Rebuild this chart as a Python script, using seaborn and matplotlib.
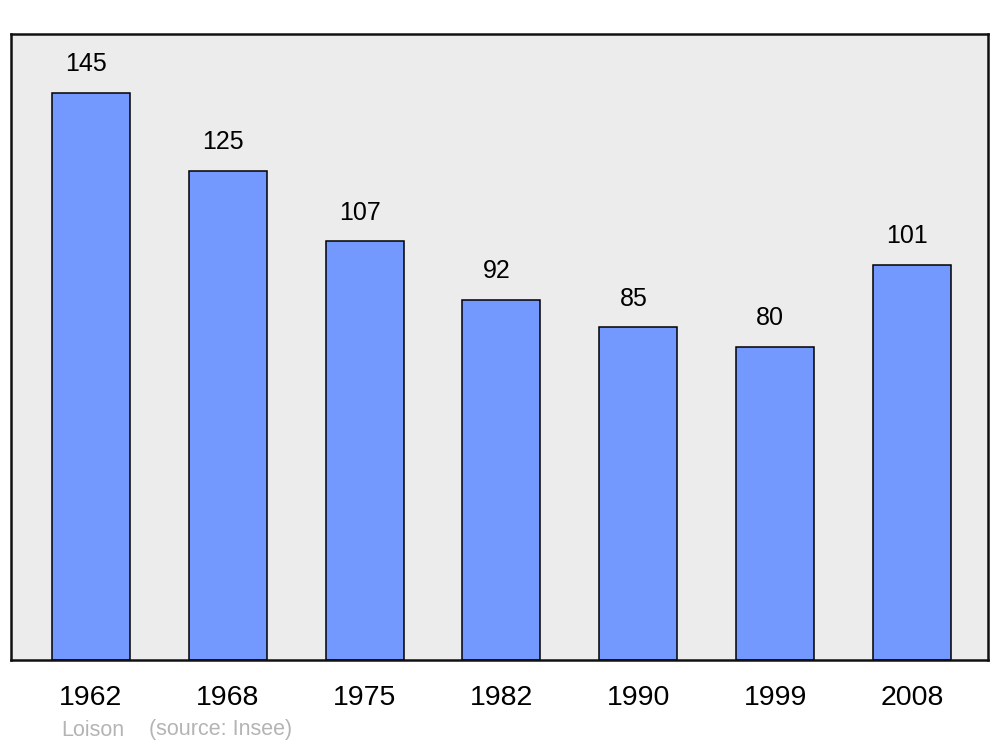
import pandas as pd
import seaborn as sns
import matplotlib.pyplot as plt

# Population data (Insee)
years = ['1962', '1968', '1975', '1982', '1990', '1999', '2008']
population = [145, 125, 107, 92, 85, 80, 101]

df = pd.DataFrame({'year': years, 'population': population})

sns.set_style('white')
plt.rcParams['font.family'] = ['Liberation Sans', 'DejaVu Sans']

fig = plt.figure(figsize=(10, 7.47), dpi=100)
ax = fig.add_axes([0.011, 0.1165, 0.977, 0.838])
ax.set_facecolor('#ececec')

sns.barplot(data=df, x='year', y='population', color='#7399ff', saturation=1,
            width=0.57, edgecolor='black', linewidth=1.1, ax=ax)

# Value labels above bars (slightly left of centre, as in the original)
for i, v in enumerate(population):
    ax.annotate(str(v), xy=(i, v), xytext=(-3.5, 12), textcoords='offset points',
                ha='center', va='bottom', fontsize=18, color='black')

ax.set_xlim(-0.584, 6.555)
ax.set_ylim(0, 160)
ax.set_yticks([])
ax.set_xlabel('')
ax.set_ylabel('')
ax.tick_params(axis='x', length=0, pad=18, labelsize=20.5, labelcolor='black')

for s in ax.spines.values():
    s.set_visible(True)
    s.set_color('#111111')
    s.set_linewidth(1.8)

fig.text(0.061, 1 - 730 / 747, 'Loison', color='#b4b4b4', fontsize=15.5, va='center')
fig.text(0.149, 1 - 730 / 747, '(source: Insee)', color='#b4b4b4', fontsize=15.5, va='center')

fig.savefig('out.png', dpi=100)
